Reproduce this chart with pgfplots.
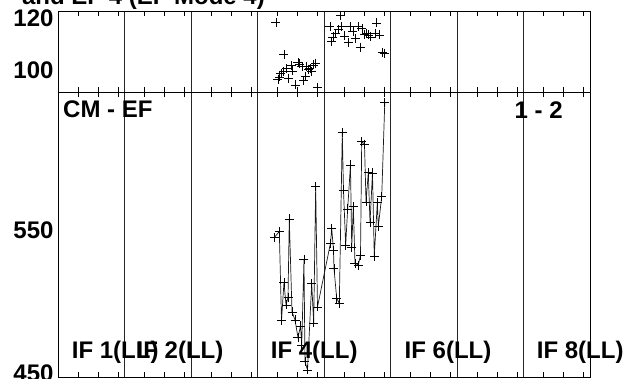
\documentclass[border=0pt]{standalone}
\usepackage{pgfplots}
\pgfplotsset{compat=1.18}
\usepackage{pgfplotstable}
\usepackage{fontspec}
\setmainfont{Liberation Sans}

\pgfplotstableread{
x y
3.278 118.4
3.308 96.7
3.331 97.5
3.353 98.9
3.388 99.7
3.398 106.3
3.439 100.7
3.463 97.0
3.508 101.9
3.519 99.8
3.571 94.4
3.609 103.0
3.632 102.5
3.669 101.7
3.692 96.3
3.722 97.6
3.740 101.5
3.767 100.5
3.789 100.8
3.810 99.5
3.835 102.1
3.875 102.8
3.902 93.3
4.090 116.8
4.116 111.3
4.135 112.9
4.173 114.3
4.218 115.8
4.248 121.3
4.266 116.8
4.308 113.3
4.365 110.9
4.398 116.8
4.436 114.9
4.474 112.3
4.519 117.1
4.549 109.0
4.571 116.2
4.602 114.0
4.642 114.2
4.669 113.7
4.702 112.9
4.767 114.3
4.789 118.3
4.835 113.7
4.880 107.1
4.907 106.7
}\topdata

\pgfplotstableread{
x y
3.256 544.9
3.328 549.0
3.361 486.7
3.398 513.3
3.429 497.6
3.459 503.1
3.478 557.7
3.519 492.7
3.564 487.1
3.609 474.8
3.647 482.9
3.665 469.6
3.699 529.4
3.714 457.9
3.752 452.1
3.815 512.6
3.845 485.0
3.875 580.4
3.902 496.2
4.098 540.9
4.116 551.2
4.143 536.0
4.150 523.2
4.191 502.2
4.230 498.6
4.275 618.0
4.293 578.0
4.326 539.5
4.356 564.7
4.398 595.5
4.417 538.1
4.441 566.3
4.466 526.7
4.516 525.5
4.549 532.5
4.567 611.7
4.609 610.1
4.632 569.6
4.666 590.1
4.692 555.2
4.729 589.9
4.756 531.8
4.802 569.1
4.817 552.6
4.868 573.4
4.914 639.2
}\botdata

\newcommand{\bigf}{\fontsize{24}{28}\selectfont\bfseries}

\pgfplotsset{
  myax/.style={
    scale only axis, width=532pt, xmin=0, xmax=8,
    xtick={0,1,...,8}, xticklabels={},
    major x tick style={draw=none},
    xmajorgrids, major grid style={black!85, line width=0.6pt},
    minor xtick={0.3,0.6,0.9,1.3,1.6,1.9,2.3,2.6,2.9,3.3,3.6,3.9,4.3,4.6,4.9,5.3,5.6,5.9,6.3,6.6,6.9,7.3,7.6,7.9},
    minor tick length=5pt, tick align=inside, xtick pos=both,
    minor x tick style={black, line width=0.6pt},
    axis line style={black, line width=0.8pt},
    ytick style={draw=none},
    yticklabel style={font=\bigf, xshift=-1pt},
  }
}

\begin{document}
\begin{tikzpicture}
\useasboundingbox (0,0) rectangle (627pt,378pt);

% top panel
\begin{axis}[myax, at={(58pt,286pt)}, anchor=south west, height=81pt,
  ymin=91.7, ymax=122.9, ytick={100,110,120},
  yticklabels={\textbf{100},,\textbf{120}}]
\addplot[only marks, mark=+, mark size=4.5pt, black, mark options={line width=0.7pt}] table {\topdata};
\pgfplotsinvokeforeach{0,1,...,8}{
  \draw[black, line width=0.6pt] (axis cs:#1,100) ++(-5pt,0) -- ++(10pt,0);
  \draw[black, line width=0.6pt] (axis cs:#1,110) ++(-5pt,0) -- ++(10pt,0);
  \draw[black, line width=0.6pt] (axis cs:#1,120) ++(-5pt,0) -- ++(10pt,0);
}
\end{axis}

% bottom panel
\begin{axis}[myax, at={(58pt,1pt)}, anchor=south west, height=285pt,
  ymin=447.2, ymax=646.5, ytick={450,500,550,600},
  yticklabels={\textbf{450},,\textbf{550},}]
\addplot[black!90, line width=0.7pt, mark=+, mark size=4.5pt, mark options={black, solid, line width=0.7pt}] table {\botdata};
\pgfplotsinvokeforeach{0,1,...,8}{
  \draw[black, line width=0.6pt] (axis cs:#1,450) ++(-5pt,0) -- ++(10pt,0);
  \draw[black, line width=0.6pt] (axis cs:#1,500) ++(-5pt,0) -- ++(10pt,0);
  \draw[black, line width=0.6pt] (axis cs:#1,550) ++(-5pt,0) -- ++(10pt,0);
  \draw[black, line width=0.6pt] (axis cs:#1,600) ++(-5pt,0) -- ++(10pt,0);
}
\end{axis}

% texts
\node[anchor=base east, inner sep=0pt, font=\bigf] at (265pt,373.5pt) {and EF 4 (EF Mode 4)};
\node[anchor=base west, inner sep=0pt, font=\bigf] at (63pt,260pt) {CM - EF};
\node[anchor=base west, inner sep=0pt, font=\bigf] at (514.5pt,259.5pt) {1 - 2};
\node[anchor=base west, inner sep=0pt, font=\bigf] at (71.7pt,20pt) {IF 1(LL)};
\node[anchor=base west, inner sep=0pt, font=\bigf] at (136.5pt,20pt) {IF 2(LL)};
\node[anchor=base west, inner sep=0pt, font=\bigf] at (270.7pt,20pt) {IF 4(LL)};
\node[anchor=base west, inner sep=0pt, font=\bigf] at (404.5pt,20pt) {IF 6(LL)};
\node[anchor=base west, inner sep=0pt, font=\bigf] at (536.7pt,20pt) {IF 8(LL)};
\end{tikzpicture}
\end{document}
